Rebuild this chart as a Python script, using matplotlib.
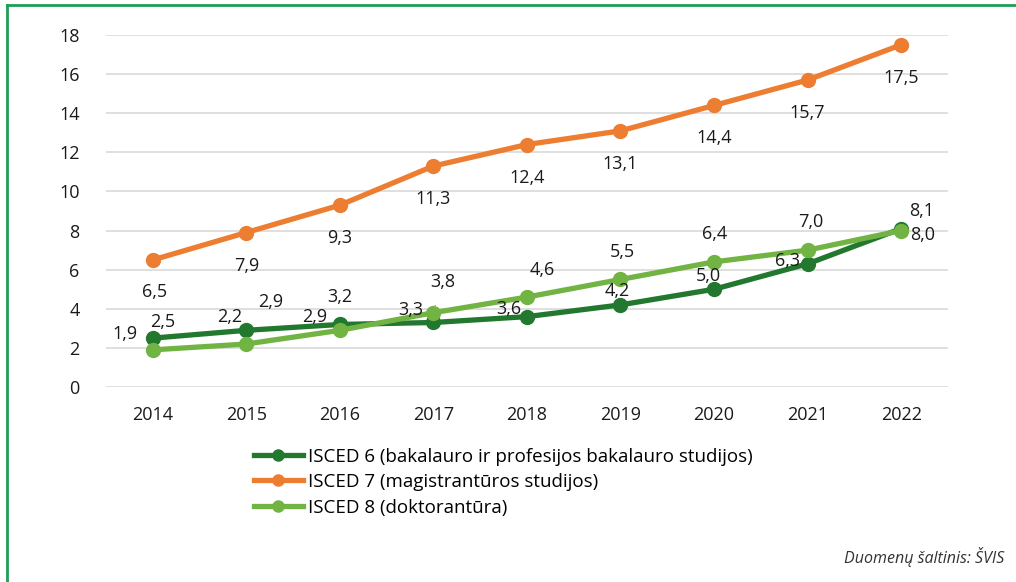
import matplotlib.pyplot as plt
from matplotlib.lines import Line2D

plt.rcParams['font.family'] = ['Open Sans', 'DejaVu Sans']

# Duomenys
metai = [2014, 2015, 2016, 2017, 2018, 2019, 2020, 2021, 2022]
isced6 = [2.5, 2.9, 3.2, 3.3, 3.6, 4.2, 5.0, 6.3, 8.1]
isced7 = [6.5, 7.9, 9.3, 11.3, 12.4, 13.1, 14.4, 15.7, 17.5]
isced8 = [1.9, 2.2, 2.9, 3.8, 4.6, 5.5, 6.4, 7.0, 8.0]
pavadinimai = ['ISCED 6 (bakalauro ir profesijos bakalauro studijos)',
               'ISCED 7 (magistrantūros studijos)',
               'ISCED 8 (doktorantūra)']
y_ticks = [0, 2, 4, 6, 8, 10, 12, 14, 16, 18]

spalvos = ['#23782f', '#ed7d31', '#72b443']

# etikečių poslinkiai (pikseliais)
posl6 = [(10, 16), (24, 28), (0, 27), (-23, 12), (-18, 8), (-3, 14), (-6, 13), (-20, 3), (20, 18)]
posl7 = [(2, -32)] + [(0, -33)] * 8
posl8 = [(-28, 16), (-17, 27), (-25, 13), (9, 31), (15, 27), (2, 27), (1, 28), (3, 28), (21, -4)]

fig = plt.figure(figsize=(10.16, 5.82), dpi=100)
ax = fig.add_axes([0.1043, 0.335, 0.8287, 0.6048])

x = list(range(len(metai)))
serijos = [isced6, isced7, isced8]
posl = [posl6, posl7, posl8]
for i, s in enumerate(serijos):
    ax.plot(x, s, color=spalvos[i], lw=3.8, marker='o', ms=10, zorder=3 + (i == 2))

for i, s in enumerate(serijos):
    for j, v in enumerate(s):
        dx, dy = posl[i][j]
        txt = f'{v:.1f}'.replace('.', ',')
        if i == 2 and j == 3:
            ax.annotate(txt, (x[j], v), xytext=(dx, dy), textcoords='offset pixels',
                        ha='center', va='center', fontsize=13, color='#1a1a1a',
                        arrowprops=dict(arrowstyle='-', color='#a6a6a6', lw=1,
                                        shrinkA=9, shrinkB=4), zorder=6)
        else:
            ax.annotate(txt, (x[j], v), xytext=(dx, dy), textcoords='offset pixels',
                        ha='center', va='center', fontsize=13, color='#1a1a1a', zorder=6)

ax.set_xlim(-0.5, len(metai) - 0.5)
ax.set_ylim(0, 18)
ax.set_yticks(y_ticks)
ax.set_xticks(x)
ax.set_xticklabels([str(m) for m in metai])
ax.grid(axis='y', color='#d9d9d9', lw=1.2)
ax.set_axisbelow(True)
for sp in ax.spines.values():
    sp.set_visible(False)
ax.tick_params(length=0, labelsize=13, colors='#1a1a1a')
ax.tick_params(axis='y', pad=19)
ax.tick_params(axis='x', pad=14)

rankenos = [Line2D([], [], color=c, lw=3.8, marker='o', ms=8) for c in spalvos]
fig.legend(rankenos, pavadinimai, loc='upper left', bbox_to_anchor=(0.25, 0.231),
           frameon=False, fontsize=13.5, handlelength=2.6, handletextpad=0.3,
           labelspacing=0.4, borderaxespad=0, borderpad=0)

fig.text(0.989, 0.043, 'Duomenų šaltinis: ŠVIS', ha='right', va='center',
         fontsize=11.5, style='italic', color='#333333')

# rėmelis
fig.add_artist(Line2D([0.007, 0.007], [0, 0.991], transform=fig.transFigure,
                      color='#1f9e55', lw=2))
fig.add_artist(Line2D([0.007, 1], [0.991, 0.991], transform=fig.transFigure,
                      color='#1f9e55', lw=2))

fig.savefig('out.png', dpi=100)
